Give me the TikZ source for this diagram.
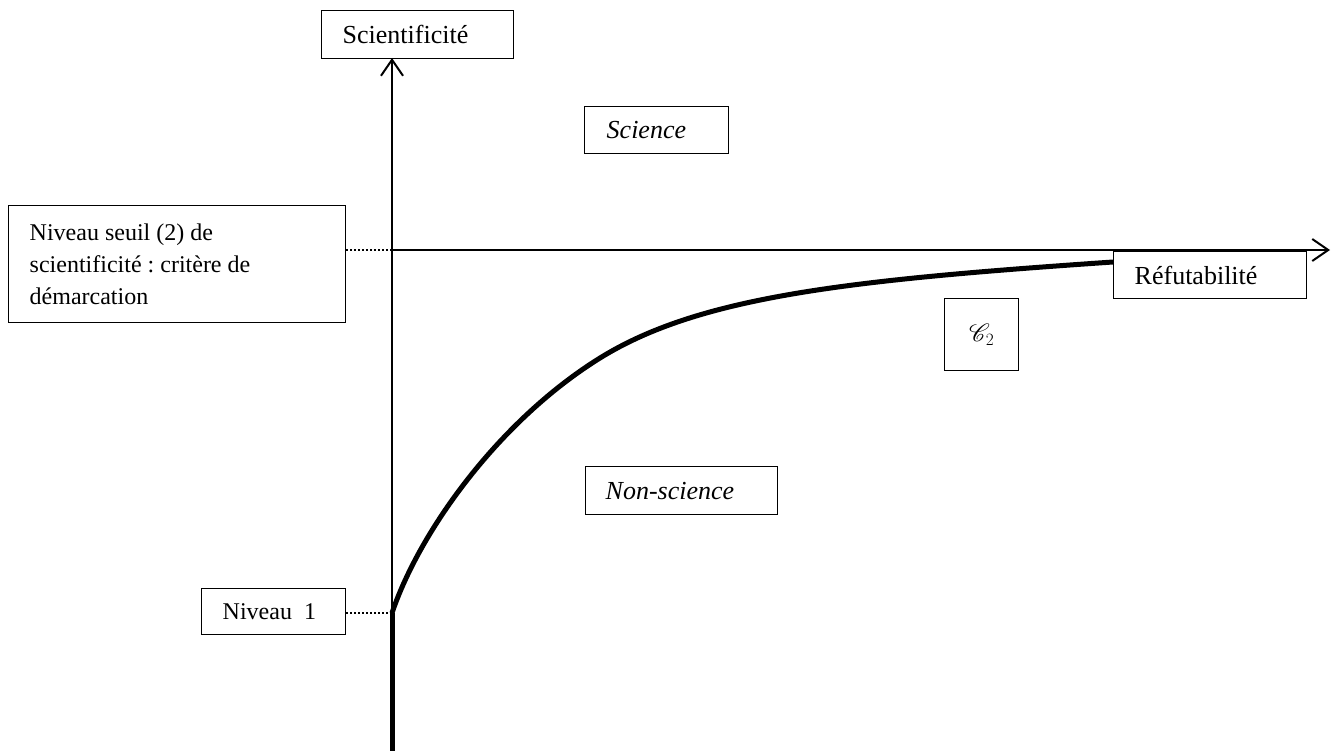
\documentclass[tikz,border=0pt]{standalone}
\usepackage{fontspec}
\usepackage{mathrsfs}
\setmainfont{Liberation Serif}
\usetikzlibrary{arrows.meta}
\newcommand\tightsp{\frenchspacing\spaceskip=0.25em\relax}
\begin{document}
\begin{tikzpicture}[x=1pt,y=-1pt,
  box/.style={draw, line width=1.4pt, anchor=north west, inner xsep=#1, inner ysep=0pt, align=left, font=\fontsize{26}{32}\selectfont, execute at begin node=\tightsp},
  box/.default=21pt,
  small/.style={font=\fontsize{24}{32}\selectfont},
  axis/.style={line width=2pt, -{Straight Barb[length=16pt,width=22pt,line width=2pt]}},
  dots/.style={line width=2pt, dotted},
  thick curve/.style={line width=5pt}]
\useasboundingbox (0,0) rectangle (1338,751);
% boxes
\node[box, minimum width=191pt, minimum height=48pt, text width=150pt] (sci) at (321,10) {Scientificité};
\node[box, small, minimum width=337pt, minimum height=117pt, text width=295pt] (seuil) at (8,205) {Niveau seuil (2) de\\scientificité : critère de\\démarcation};
\node[box=22pt, minimum width=144pt, minimum height=47pt, text width=100pt] (science) at (584,106) {\textit{Science}};
\node[box=20pt, minimum width=192pt, minimum height=48pt, text width=152pt] (nonsci) at (585,466) {\textit{Non-science}};
\node[box, minimum width=193pt, minimum height=47pt, text width=151pt] (refut) at (1113,251) {Réfutabilité};
\node[box=0pt, minimum width=74pt, minimum height=72pt, align=center, font=\fontsize{32}{32}\selectfont] (c2) at (944,298) {$\mathscr{C}_{\scriptscriptstyle 2}$};
\node[box, small, minimum width=144pt, minimum height=46pt, text width=102pt] (niv1) at (201,588) {Niveau\hspace{0.5em}1};
% coordinates
\coordinate (bot) at (392,751);
\coordinate (top) at (392,58);
\coordinate (ys) at (392,250);
\coordinate (xend) at (1330,250);
\coordinate (y1) at (392,613);
\coordinate (mid) at (600,358);
\coordinate (cend) at (1113,262);
% axes
\draw[axis] (bot) -- (top);
\draw[axis] (ys) -- (xend);
% dotted guides
\draw[dots] (seuil.east |- ys) -- (ys);
\draw[dots] (niv1.east |- y1) -- (y1);
% thick curve
\draw[thick curve] (bot) -- (y1);
\draw[thick curve] (y1) .. controls (420,530) and (500,420) .. (mid)
  .. controls (700,296) and (850,280) .. (cend);
\end{tikzpicture}
\end{document}
